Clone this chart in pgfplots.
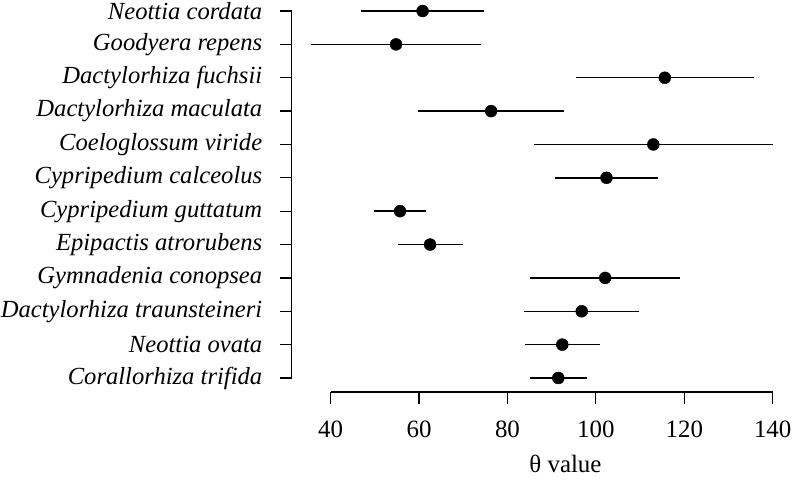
\documentclass[border=0pt]{standalone}
\usepackage{pgfplots}
\usepackage{pgfplotstable}
\pgfplotsset{compat=1.18}
\usepackage{fontspec}
\setmainfont{Liberation Serif}
\begin{document}
\begin{tikzpicture}
\pgfplotstableread{
y x lo hi
12 60.8 46.8 74.8
11 54.8 35.6 74.0
10 115.6 95.4 135.7
9 76.3 59.8 92.9
8 113.0 86.1 140.0
7 102.4 90.8 114.1
6 55.7 49.8 61.6
5 62.5 55.2 70.0
4 102.1 85.2 119.0
3 96.8 83.8 109.8
2 92.4 84.0 100.9
1 91.5 85.0 97.9
}\datatable
\begin{axis}[
  scale only axis, width=499.5bp, height=392bp,
  xmin=31.2, xmax=144.2, ymin=0.58, ymax=12.33,
  axis x line*=bottom, axis y line*=left,
  axis line style={draw=none},
  tick align=outside, major tick length=12bp,
  tick style={line width=1.2bp, black},
  xtick={40,60,80,100,120,140},
  ytick={1,2,3,4,5,6,7,8,9,10,11,12},
  yticklabels={Corallorhiza trifida, Neottia ovata, Dactylorhiza traunsteineri, Gymnadenia conopsea, Epipactis atrorubens, Cypripedium guttatum, Cypripedium calceolus, Coeloglossum viride, Dactylorhiza maculata, Dactylorhiza fuchsii, Goodyera repens, Neottia cordata},
  /pgf/number format/assume math mode=true,
  every tick label/.append style={font=\fontsize{25}{30}\selectfont},
  xticklabel style={yshift=-13bp},
  yticklabel style={font=\fontsize{24.7}{30}\selectfont\itshape, xshift=-14bp},
  xlabel={θ value},
  xlabel style={font=\fontsize{25}{30}\selectfont, at={(axis description cs:0.548,0)}, anchor=base, yshift=-80bp},
  clip=false,
]
\draw[line width=1.2bp] (axis cs:40,0.58) -- (axis cs:140,0.58);
\draw[line width=1.2bp] (axis cs:31.2,1) -- (axis cs:31.2,12);
\addplot[only marks, mark=*, mark size=6bp, black,
  error bars/.cd, x dir=both, x explicit, error mark=none,
  error bar style={line width=1.4bp, black}]
  table[x=x, y=y, x error plus expr=\thisrow{hi}-\thisrow{x}, x error minus expr=\thisrow{x}-\thisrow{lo}] {\datatable};
\coordinate (bbA) at (axis cs:-34.8,-2.028);
\coordinate (bbB) at (axis cs:144.37,12.33);
\end{axis}
\pgfresetboundingbox
\path (bbA) rectangle (bbB);
\end{tikzpicture}
\end{document}
